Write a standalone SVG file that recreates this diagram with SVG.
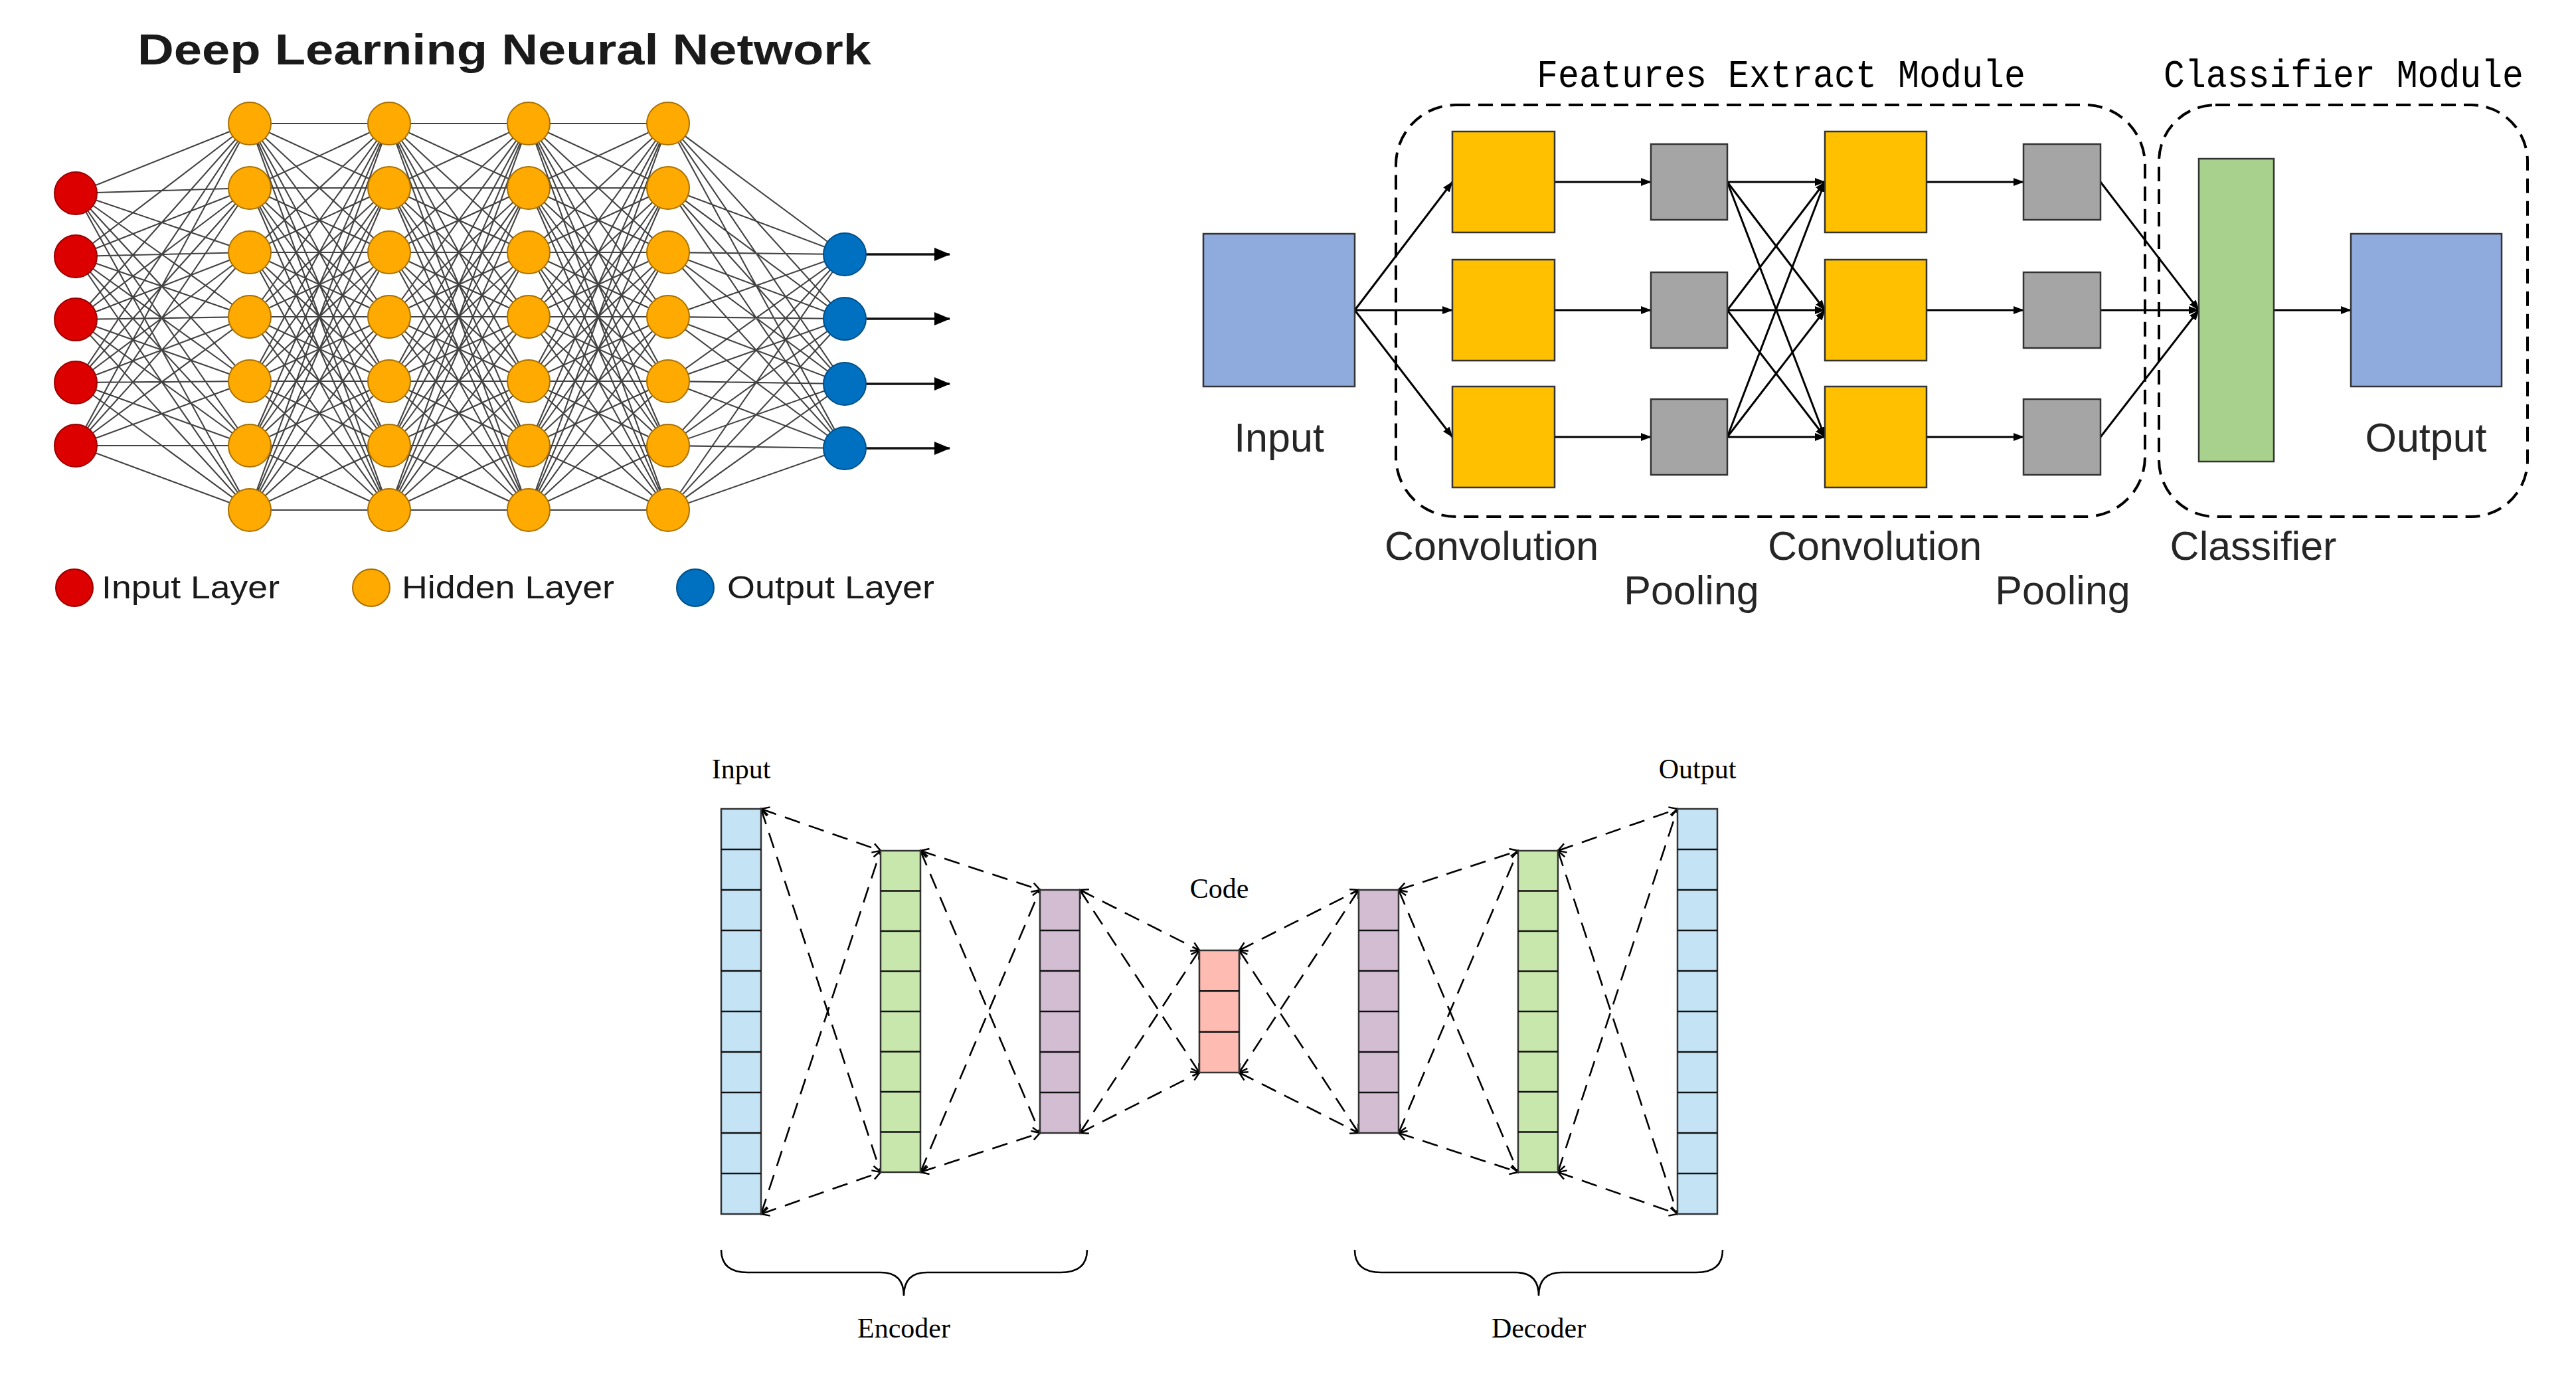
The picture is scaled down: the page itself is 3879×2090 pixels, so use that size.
<svg xmlns="http://www.w3.org/2000/svg" width="3879" height="2090" viewBox="0 0 3879 2090">
<style>
.nnl{fill:none;stroke:#2e2e2e;stroke-width:2.1;stroke-opacity:0.9}
.red{fill:#DD0000;stroke:#9a0000;stroke-width:2}
.org{fill:#FFAA00;stroke:#a87000;stroke-width:2}
.blu{fill:#0070C0;stroke:#004f88;stroke-width:2}
.nnt{font-family:"Liberation Sans",Arial,sans-serif;fill:#1a1a1a}
.nnarr{fill:none;stroke:#111;stroke-width:3.5;marker-end:url(#nnah)}
.cb{stroke:#333;stroke-width:2.5}
.cl{fill:none;stroke:#000;stroke-width:3;marker-end:url(#ah)}
.dash{fill:none;stroke:#000;stroke-width:4;stroke-dasharray:22 12}
.lbl{font-family:"Liberation Sans",Arial,sans-serif;font-size:61px;fill:#262626;text-anchor:middle}
.mono{font-family:"Liberation Mono","DejaVu Sans Mono",monospace;font-size:60px;fill:#000}
.col{stroke:#333;stroke-width:2.5}
.div{fill:none;stroke:#111;stroke-width:2.5}
.ael{fill:none;stroke:#000;stroke-width:2.6;stroke-dasharray:24 14;marker-start:url(#oa);marker-end:url(#oa)}
.ser{font-family:"Liberation Serif","Times New Roman",serif;font-size:42px;fill:#000;text-anchor:middle}
.brace{fill:none;stroke:#000;stroke-width:2.6}
</style>
<defs>
<marker id="oa" markerUnits="userSpaceOnUse" viewBox="-14 -9 16 18" markerWidth="16" markerHeight="18" refX="0" refY="0" orient="auto-start-reverse"><path d="M-12,-7L0,0L-12,7" fill="none" stroke="#000" stroke-width="2.5" stroke-dasharray="none"/></marker>
<marker id="ah" markerUnits="userSpaceOnUse" viewBox="0 0 16 12" markerWidth="16" markerHeight="12" refX="15" refY="6" orient="auto"><path d="M0,0L16,6L0,12z" fill="#000"/></marker>
<marker id="nnah" markerUnits="userSpaceOnUse" viewBox="0 0 24 20" markerWidth="24" markerHeight="20" refX="23" refY="10" orient="auto"><path d="M0,0L24,10L0,20z" fill="#000"/></marker>
<path id="hh" d="M0 186L210 186M0 186L210 283M0 186L210 380M0 186L210 477M0 186L210 574M0 186L210 671M0 186L210 768M0 283L210 186M0 283L210 283M0 283L210 380M0 283L210 477M0 283L210 574M0 283L210 671M0 283L210 768M0 380L210 186M0 380L210 283M0 380L210 380M0 380L210 477M0 380L210 574M0 380L210 671M0 380L210 768M0 477L210 186M0 477L210 283M0 477L210 380M0 477L210 477M0 477L210 574M0 477L210 671M0 477L210 768M0 574L210 186M0 574L210 283M0 574L210 380M0 574L210 477M0 574L210 574M0 574L210 671M0 574L210 768M0 671L210 186M0 671L210 283M0 671L210 380M0 671L210 477M0 671L210 574M0 671L210 671M0 671L210 768M0 768L210 186M0 768L210 283M0 768L210 380M0 768L210 477M0 768L210 574M0 768L210 671M0 768L210 768"/>
</defs>
<rect width="3879" height="2090" fill="#fff"/>

<!-- ===== Deep Learning Neural Network ===== -->
<text class="nnt" x="207" y="97" font-size="64" font-weight="bold" textLength="1105" lengthAdjust="spacingAndGlyphs">Deep Learning Neural Network</text>
<g id="nn-connectors">
<path class="nnl" d="M114 291L376 186M114 291L376 283M114 291L376 380M114 291L376 477M114 291L376 574M114 291L376 671M114 291L376 768M114 386L376 186M114 386L376 283M114 386L376 380M114 386L376 477M114 386L376 574M114 386L376 671M114 386L376 768M114 481L376 186M114 481L376 283M114 481L376 380M114 481L376 477M114 481L376 574M114 481L376 671M114 481L376 768M114 576L376 186M114 576L376 283M114 576L376 380M114 576L376 477M114 576L376 574M114 576L376 671M114 576L376 768M114 671L376 186M114 671L376 283M114 671L376 380M114 671L376 477M114 671L376 574M114 671L376 671M114 671L376 768"/>
<use href="#hh" class="nnl" x="376"/>
<use href="#hh" class="nnl" x="586"/>
<use href="#hh" class="nnl" x="796"/>
<path class="nnl" d="M1006 186L1272 383M1006 186L1272 480M1006 186L1272 578M1006 186L1272 675M1006 283L1272 383M1006 283L1272 480M1006 283L1272 578M1006 283L1272 675M1006 380L1272 383M1006 380L1272 480M1006 380L1272 578M1006 380L1272 675M1006 477L1272 383M1006 477L1272 480M1006 477L1272 578M1006 477L1272 675M1006 574L1272 383M1006 574L1272 480M1006 574L1272 578M1006 574L1272 675M1006 671L1272 383M1006 671L1272 480M1006 671L1272 578M1006 671L1272 675M1006 768L1272 383M1006 768L1272 480M1006 768L1272 578M1006 768L1272 675"/>
<path class="nnarr" d="M1304 383L1430 383"/>
<path class="nnarr" d="M1304 480L1430 480"/>
<path class="nnarr" d="M1304 578L1430 578"/>
<path class="nnarr" d="M1304 675L1430 675"/>
</g>
<g id="nn-input-layer" class="red">
<circle cx="114" cy="291" r="32"/><circle cx="114" cy="386" r="32"/><circle cx="114" cy="481" r="32"/><circle cx="114" cy="576" r="32"/><circle cx="114" cy="671" r="32"/>
</g>
<g id="nn-hidden-1" class="org">
<circle cx="376" cy="186" r="32"/><circle cx="376" cy="283" r="32"/><circle cx="376" cy="380" r="32"/><circle cx="376" cy="477" r="32"/><circle cx="376" cy="574" r="32"/><circle cx="376" cy="671" r="32"/><circle cx="376" cy="768" r="32"/>
</g>
<g id="nn-hidden-2" class="org">
<circle cx="586" cy="186" r="32"/><circle cx="586" cy="283" r="32"/><circle cx="586" cy="380" r="32"/><circle cx="586" cy="477" r="32"/><circle cx="586" cy="574" r="32"/><circle cx="586" cy="671" r="32"/><circle cx="586" cy="768" r="32"/>
</g>
<g id="nn-hidden-3" class="org">
<circle cx="796" cy="186" r="32"/><circle cx="796" cy="283" r="32"/><circle cx="796" cy="380" r="32"/><circle cx="796" cy="477" r="32"/><circle cx="796" cy="574" r="32"/><circle cx="796" cy="671" r="32"/><circle cx="796" cy="768" r="32"/>
</g>
<g id="nn-hidden-4" class="org">
<circle cx="1006" cy="186" r="32"/><circle cx="1006" cy="283" r="32"/><circle cx="1006" cy="380" r="32"/><circle cx="1006" cy="477" r="32"/><circle cx="1006" cy="574" r="32"/><circle cx="1006" cy="671" r="32"/><circle cx="1006" cy="768" r="32"/>
</g>
<g id="nn-output-layer" class="blu">
<circle cx="1272" cy="383" r="32"/><circle cx="1272" cy="480" r="32"/><circle cx="1272" cy="578" r="32"/><circle cx="1272" cy="675" r="32"/>
</g>
<g id="nn-legend">
<circle class="red" cx="112" cy="885" r="28"/>
<text class="nnt" x="153" y="901" font-size="48" textLength="268" lengthAdjust="spacingAndGlyphs">Input Layer</text>
<circle class="org" cx="559" cy="885" r="28"/>
<text class="nnt" x="605" y="901" font-size="48" textLength="320" lengthAdjust="spacingAndGlyphs">Hidden Layer</text>
<circle class="blu" cx="1047" cy="885" r="28"/>
<text class="nnt" x="1095" y="901" font-size="48" textLength="312" lengthAdjust="spacingAndGlyphs">Output Layer</text>
</g>

<!-- ===== CNN ===== -->
<g id="cnn-modules">
<rect class="dash" x="2102" y="158" width="1128" height="620" rx="90" ry="90"/>
<rect class="dash" x="3251" y="158" width="555" height="620" rx="85" ry="85"/>
<text class="mono" x="2314" y="131" textLength="736" lengthAdjust="spacingAndGlyphs">Features Extract Module</text>
<text class="mono" x="3258" y="131" textLength="542" lengthAdjust="spacingAndGlyphs">Classifier Module</text>
</g>
<g id="cnn-connectors">
<path class="cl" d="M2040 467L2187 274"/><path class="cl" d="M2040 467L2187 467"/><path class="cl" d="M2040 467L2187 658"/>
<path class="cl" d="M2341 274L2486 274"/><path class="cl" d="M2341 467L2486 467"/><path class="cl" d="M2341 658L2486 658"/>
<path class="cl" d="M2601 274L2748 274"/><path class="cl" d="M2601 274L2748 467"/><path class="cl" d="M2601 274L2748 658"/>
<path class="cl" d="M2601 467L2748 274"/><path class="cl" d="M2601 467L2748 467"/><path class="cl" d="M2601 467L2748 658"/>
<path class="cl" d="M2601 658L2748 274"/><path class="cl" d="M2601 658L2748 467"/><path class="cl" d="M2601 658L2748 658"/>
<path class="cl" d="M2901 274L3047 274"/><path class="cl" d="M2901 467L3047 467"/><path class="cl" d="M2901 658L3047 658"/>
<path class="cl" d="M3163 274L3311 467"/><path class="cl" d="M3163 467L3311 467"/><path class="cl" d="M3163 658L3311 467"/>
<path class="cl" d="M3424 467L3540 467"/>
</g>
<g id="cnn-input"><rect class="cb" x="1812" y="352" width="228" height="230" fill="#8FAADC"/><text class="lbl" x="1926" y="680">Input</text></g>
<g id="cnn-conv1">
<rect class="cb" x="2187" y="198" width="154" height="152" fill="#FFC000"/>
<rect class="cb" x="2187" y="391" width="154" height="152" fill="#FFC000"/>
<rect class="cb" x="2187" y="582" width="154" height="152" fill="#FFC000"/>
<text class="lbl" x="2246" y="843">Convolution</text>
</g>
<g id="cnn-pool1">
<rect class="cb" x="2486" y="217" width="115" height="114" fill="#A5A5A5"/>
<rect class="cb" x="2486" y="410" width="115" height="114" fill="#A5A5A5"/>
<rect class="cb" x="2486" y="601" width="115" height="114" fill="#A5A5A5"/>
<text class="lbl" x="2547" y="910">Pooling</text>
</g>
<g id="cnn-conv2">
<rect class="cb" x="2748" y="198" width="153" height="152" fill="#FFC000"/>
<rect class="cb" x="2748" y="391" width="153" height="152" fill="#FFC000"/>
<rect class="cb" x="2748" y="582" width="153" height="152" fill="#FFC000"/>
<text class="lbl" x="2823" y="843">Convolution</text>
</g>
<g id="cnn-pool2">
<rect class="cb" x="3047" y="217" width="116" height="114" fill="#A5A5A5"/>
<rect class="cb" x="3047" y="410" width="116" height="114" fill="#A5A5A5"/>
<rect class="cb" x="3047" y="601" width="116" height="114" fill="#A5A5A5"/>
<text class="lbl" x="3106" y="910">Pooling</text>
</g>
<g id="cnn-classifier"><rect class="cb" x="3311" y="239" width="113" height="456" fill="#A9D18E"/><text class="lbl" x="3393" y="843">Classifier</text></g>
<g id="cnn-output"><rect class="cb" x="3540" y="352" width="227" height="230" fill="#8FAADC"/><text class="lbl" x="3653" y="680">Output</text></g>

<!-- ===== Autoencoder ===== -->
<g id="ae-connectors">
<path class="ael" d="M1146 1218L1326 1281"/><path class="ael" d="M1146 1218L1326 1765"/><path class="ael" d="M1146 1828L1326 1281"/><path class="ael" d="M1146 1828L1326 1765"/>
<path class="ael" d="M1386 1281L1566 1340"/><path class="ael" d="M1386 1281L1566 1706"/><path class="ael" d="M1386 1765L1566 1340"/><path class="ael" d="M1386 1765L1566 1706"/>
<path class="ael" d="M1626 1340L1806 1431"/><path class="ael" d="M1626 1340L1806 1615"/><path class="ael" d="M1626 1706L1806 1431"/><path class="ael" d="M1626 1706L1806 1615"/>
<path class="ael" d="M1866 1431L2046 1340"/><path class="ael" d="M1866 1431L2046 1706"/><path class="ael" d="M1866 1615L2046 1340"/><path class="ael" d="M1866 1615L2046 1706"/>
<path class="ael" d="M2106 1340L2286 1281"/><path class="ael" d="M2106 1340L2286 1765"/><path class="ael" d="M2106 1706L2286 1281"/><path class="ael" d="M2106 1706L2286 1765"/>
<path class="ael" d="M2346 1281L2526 1218"/><path class="ael" d="M2346 1281L2526 1828"/><path class="ael" d="M2346 1765L2526 1218"/><path class="ael" d="M2346 1765L2526 1828"/>
</g>
<g id="ae-input">
<rect class="col" x="1086" y="1218" width="60" height="610" fill="#C4E4F6"/>
<path class="div" d="M1086 1279H1146M1086 1340H1146M1086 1401H1146M1086 1462H1146M1086 1523H1146M1086 1584H1146M1086 1645H1146M1086 1706H1146M1086 1767H1146"/>
<text class="ser" x="1116" y="1172">Input</text>
</g>
<g id="ae-enc-1">
<rect class="col" x="1326" y="1281" width="60" height="484" fill="#C8E7AD"/>
<path class="div" d="M1326 1341.5H1386M1326 1402H1386M1326 1462.5H1386M1326 1523H1386M1326 1583.5H1386M1326 1644H1386M1326 1704.5H1386"/>
</g>
<g id="ae-enc-2">
<rect class="col" x="1566" y="1340" width="60" height="366" fill="#D3BDD3"/>
<path class="div" d="M1566 1401H1626M1566 1462H1626M1566 1523H1626M1566 1584H1626M1566 1645H1626"/>
</g>
<g id="ae-code">
<rect class="col" x="1806" y="1431" width="60" height="184" fill="#FDBBB1"/>
<path class="div" d="M1806 1492.3H1866M1806 1553.7H1866"/>
<text class="ser" x="1836" y="1352">Code</text>
</g>
<g id="ae-dec-1">
<rect class="col" x="2046" y="1340" width="60" height="366" fill="#D3BDD3"/>
<path class="div" d="M2046 1401H2106M2046 1462H2106M2046 1523H2106M2046 1584H2106M2046 1645H2106"/>
</g>
<g id="ae-dec-2">
<rect class="col" x="2286" y="1281" width="60" height="484" fill="#C8E7AD"/>
<path class="div" d="M2286 1341.5H2346M2286 1402H2346M2286 1462.5H2346M2286 1523H2346M2286 1583.5H2346M2286 1644H2346M2286 1704.5H2346"/>
</g>
<g id="ae-output">
<rect class="col" x="2526" y="1218" width="60" height="610" fill="#C4E4F6"/>
<path class="div" d="M2526 1279H2586M2526 1340H2586M2526 1401H2586M2526 1462H2586M2526 1523H2586M2526 1584H2586M2526 1645H2586M2526 1706H2586M2526 1767H2586"/>
<text class="ser" x="2556" y="1172">Output</text>
</g>
<g id="ae-encoder-brace">
<path class="brace" d="M1086 1882C1086 1905 1100 1916 1126 1916L1326 1916C1350 1916 1361 1928 1361 1951C1361 1928 1372 1916 1396 1916L1597 1916C1623 1916 1637 1905 1637 1882"/>
<text class="ser" x="1361" y="2014">Encoder</text>
</g>
<g id="ae-decoder-brace">
<path class="brace" d="M2040 1882C2040 1905 2054 1916 2080 1916L2282 1916C2306 1916 2317 1928 2317 1951C2317 1928 2328 1916 2352 1916L2554 1916C2580 1916 2594 1905 2594 1882"/>
<text class="ser" x="2317" y="2014">Decoder</text>
</g>
</svg>
